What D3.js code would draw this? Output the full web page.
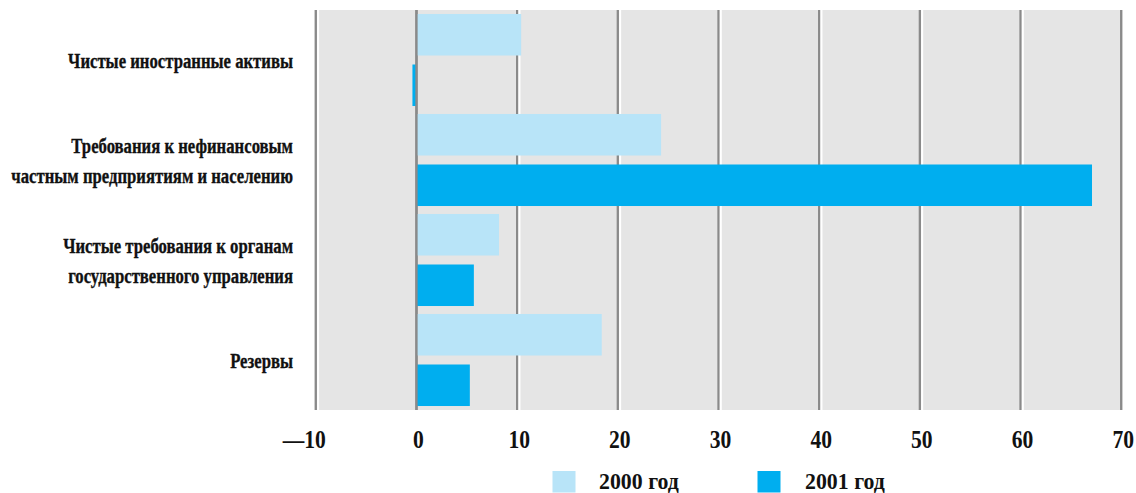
<!DOCTYPE html>
<html><head><meta charset="utf-8">
<script src="https://cdn.jsdelivr.net/npm/d3@7"></script>
<style>
html,body{margin:0;padding:0;background:#fff;}
svg{display:block;}
text{font-family:"Liberation Serif","Times New Roman",serif;font-weight:bold;fill:#111;}
</style></head>
<body>
<svg id="chart" width="1136" height="493"></svg>
<script>
const categories = [
  "Чистые иностранные активы",
  "Требования к нефинансовым\nчастным предприятиям и населению",
  "Чистые требования к органам\nгосударственного управления",
  "Резервы"
];
const seriesNames = ["2000 год", "2001 год"];
const values2000 = [10.4, 24.3, 8.2, 18.4];
const values2001 = [-0.4, 67.1, 5.7, 5.3];
const tickValues = [-10, 0, 10, 20, 30, 40, 50, 60, 70];
const colors = ["#b8e4f8", "#00aeef"];

const svg = d3.select("#chart");
const x = d3.scaleLinear().domain([-10, 70]).range([315.8, 1121.2]);
const y = d3.scaleBand().domain(categories).range([10, 410]).paddingInner(0).paddingOuter(0);
const ys = d3.scaleBand().domain(seriesNames).range([0, y.bandwidth()]).paddingInner(0.178).paddingOuter(0.079);

// background
svg.append("rect").attr("x", x(-10) - 1.2).attr("y", 10)
  .attr("width", x(70) - x(-10) + 2.4).attr("height", 400).attr("fill", "#e5e5e5");

// gridlines
const grid = svg.append("g");
tickValues.forEach(v => {
  grid.append("line").attr("x1", x(v)).attr("x2", x(v)).attr("y1", 10).attr("y2", 410)
    .attr("stroke", "#8a8a8a").attr("stroke-width", 2.3);
  if (v !== 70 && v !== 0) {
    grid.append("line").attr("x1", x(v) + 2.3).attr("x2", x(v) + 2.3).attr("y1", 10).attr("y2", 410)
      .attr("stroke", "#ffffff").attr("stroke-width", 2);
  }
});

// bars
const rows = categories.map((c, i) => ({c, vals: [values2000[i], values2001[i]]}));
const barG = svg.append("g");
rows.forEach(r => {
  r.vals.forEach((v, j) => {
    barG.append("rect")
      .attr("x", x(Math.min(0, v)))
      .attr("y", y(r.c) + ys(seriesNames[j]))
      .attr("width", Math.abs(x(v) - x(0)))
      .attr("height", ys.bandwidth())
      .attr("fill", colors[j]);
  });
});

// zero line on top
svg.append("line").attr("x1", x(0)).attr("x2", x(0)).attr("y1", 10).attr("y2", 410)
  .attr("stroke", "#8a8a8a").attr("stroke-width", 2.3);

// category labels
const labG = svg.append("g");
const labelTexts = [];
categories.forEach(c => {
  const lines = c.split("\n");
  const cy = y(c) + y.bandwidth() / 2;
  lines.forEach((ln, k) => {
    const yy = cy + (k - (lines.length - 1) / 2) * 30 + 7.5;
    const g = labG.append("g").attr("transform", `translate(293,${yy})`);
    const t = g.append("text").attr("text-anchor", "end").attr("font-size", 22)
      .attr("stroke", "#111").attr("stroke-width", 0.35).text(ln);
    labelTexts.push({g, t, yy});
  });
});
const longest = d3.max(labelTexts, d => d.t.node().getComputedTextLength());
const sxLab = 282 / longest;
labelTexts.forEach(d => d.g.attr("transform", `translate(293,${d.yy}) scale(${sxLab},1)`));

// x axis
const sxTick = 0.83;
const axis = d3.axisBottom(x).tickValues(tickValues).tickSize(0)
  .tickFormat(d => d < 0 ? "—" + Math.abs(d) : String(d));
const axG = svg.append("g").attr("transform", "translate(0,410)").call(axis);
axG.select(".domain").remove();
axG.selectAll("text")
  .attr("font-size", 26).attr("font-family", "Liberation Serif, serif").attr("font-weight", "bold")
  .attr("fill", "#111").attr("y", 38).attr("dy", 0)
  .attr("x", d => (d < 0 ? -12 : 1.5) / sxTick)
  .attr("transform", `scale(${sxTick},1)`);

// legend
const legX = [552.5, 757.5];
const legTX = [599, 805];
seriesNames.forEach((s, j) => {
  svg.append("rect").attr("x", legX[j]).attr("y", 471).attr("width", 23).attr("height", 21.5).attr("fill", colors[j]);
  svg.append("g").attr("transform", `translate(${legTX[j]},488.5) scale(0.95,1)`)
    .append("text").attr("font-size", 23).text(s);
});
</script>
</body></html>
